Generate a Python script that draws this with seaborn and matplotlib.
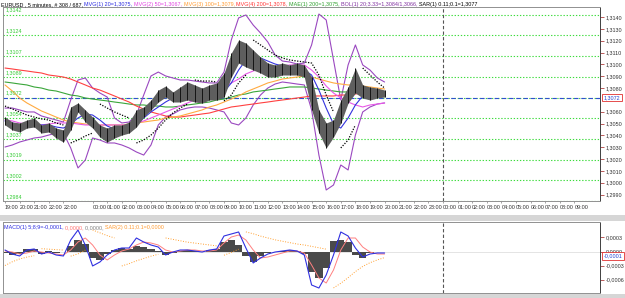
import numpy as np
import pandas as pd
import seaborn as sns
import matplotlib
matplotlib.use("Agg")
import matplotlib.pyplot as plt
from matplotlib.patches import Rectangle

# ---------------- data ----------------
# chart time axis, in hours from the first bar (half-hour samples)
hours = np.arange(0, 26.5, 0.5)

price_high = [1.30555, 1.30513, 1.30505, 1.30530, 1.30547, 1.30488, 1.30505, 1.30462, 1.30446, 1.30640,
              1.30674, 1.30615, 1.30555, 1.30488, 1.30462, 1.30488, 1.30488, 1.30513, 1.30615, 1.30640,
              1.30699, 1.30783, 1.30817, 1.30767, 1.30809, 1.30851, 1.30826, 1.30800, 1.30826, 1.30843,
              1.30927, 1.31096, 1.31206, 1.31180, 1.31121, 1.31062, 1.31011, 1.30995, 1.31011, 1.30995,
              1.31011, 1.30995, 1.30893, 1.30615, 1.30505, 1.30530, 1.30699, 1.30809, 1.30969, 1.30826,
              1.30809, 1.30800, 1.30783]
price_low = [1.30488, 1.30446, 1.30429, 1.30462, 1.30471, 1.30420, 1.30429, 1.30378, 1.30344, 1.30446,
             1.30598, 1.30513, 1.30462, 1.30386, 1.30344, 1.30378, 1.30403, 1.30420, 1.30471, 1.30555,
             1.30615, 1.30682, 1.30724, 1.30682, 1.30682, 1.30699, 1.30682, 1.30674, 1.30699, 1.30699,
             1.30724, 1.30893, 1.31011, 1.30978, 1.30952, 1.30927, 1.30893, 1.30893, 1.30910, 1.30910,
             1.30910, 1.30893, 1.30615, 1.30420, 1.30294, 1.30386, 1.30505, 1.30674, 1.30758, 1.30716,
             1.30699, 1.30716, 1.30724]

ma20 = [1.30522, 1.30505, 1.30488, 1.30488, 1.30488, 1.30488, 1.30488, 1.30471, 1.30462, 1.30496,
        1.30547, 1.30581, 1.30572, 1.30530, 1.30479, 1.30454, 1.30446, 1.30462, 1.30496, 1.30547,
        1.30598, 1.30640, 1.30682, 1.30716, 1.30733, 1.30741, 1.30741, 1.30741, 1.30741, 1.30741,
        1.30767, 1.30843, 1.30952, 1.31037, 1.31062, 1.31054, 1.31028, 1.31003, 1.30986, 1.30969,
        1.30961, 1.30952, 1.30910, 1.30783, 1.30631, 1.30496, 1.30462, 1.30547, 1.30657, 1.30733,
        1.30758, 1.30758, 1.30750]
ma50 = [1.30530, 1.30522, 1.30505, 1.30496, 1.30488, 1.30488, 1.30496, 1.30505, 1.30505, 1.30505,
        1.30496, 1.30488, 1.30488, 1.30488, 1.30488, 1.30488, 1.30488, 1.30488, 1.30505, 1.30522,
        1.30547, 1.30572, 1.30598, 1.30623, 1.30648, 1.30674, 1.30699, 1.30724, 1.30758, 1.30783,
        1.30809, 1.30843, 1.30876, 1.30919, 1.30944, 1.30961, 1.30969, 1.30978, 1.30986, 1.30995,
        1.30995, 1.30995, 1.30952, 1.30893, 1.30817, 1.30758, 1.30716, 1.30682, 1.30657, 1.30640,
        1.30657, 1.30665, 1.30674]
ma100 = [1.30826, 1.30775, 1.30716, 1.30674, 1.30640, 1.30606, 1.30581, 1.30555, 1.30530, 1.30513,
         1.30505, 1.30496, 1.30488, 1.30488, 1.30488, 1.30488, 1.30488, 1.30496, 1.30505, 1.30513,
         1.30522, 1.30530, 1.30547, 1.30555, 1.30564, 1.30581, 1.30598, 1.30615, 1.30640, 1.30657,
         1.30682, 1.30707, 1.30733, 1.30767, 1.30792, 1.30817, 1.30843, 1.30859, 1.30876, 1.30885,
         1.30893, 1.30902, 1.30893, 1.30876, 1.30859, 1.30843, 1.30834, 1.30826, 1.30826, 1.30817,
         1.30809, 1.30800, 1.30792]
ma200 = [1.30969, 1.30961, 1.30952, 1.30944, 1.30935, 1.30927, 1.30910, 1.30902, 1.30893, 1.30876,
         1.30851, 1.30826, 1.30800, 1.30783, 1.30758, 1.30733, 1.30707, 1.30682, 1.30648, 1.30623,
         1.30598, 1.30581, 1.30564, 1.30555, 1.30555, 1.30564, 1.30572, 1.30581, 1.30589, 1.30606,
         1.30623, 1.30640, 1.30648, 1.30657, 1.30665, 1.30674, 1.30682, 1.30691, 1.30699, 1.30707,
         1.30716, 1.30724, 1.30733, 1.30733, 1.30733, 1.30733, 1.30741, 1.30741, 1.30750, 1.30758,
         1.30758, 1.30767, 1.30767]
mae200 = [1.30851, 1.30843, 1.30834, 1.30826, 1.30809, 1.30800, 1.30783, 1.30775, 1.30758, 1.30741,
          1.30733, 1.30716, 1.30707, 1.30699, 1.30691, 1.30682, 1.30674, 1.30665, 1.30657, 1.30657,
          1.30648, 1.30648, 1.30640, 1.30640, 1.30648, 1.30657, 1.30665, 1.30674, 1.30682, 1.30699,
          1.30707, 1.30724, 1.30741, 1.30750, 1.30767, 1.30775, 1.30783, 1.30792, 1.30800, 1.30809,
          1.30809, 1.30809, 1.30800, 1.30792, 1.30783, 1.30775, 1.30767, 1.30767, 1.30767, 1.30767,
          1.30767, 1.30758, 1.30758]
bb_upper = [1.30631, 1.30631, 1.30615, 1.30598, 1.30598, 1.30564, 1.30547, 1.30530, 1.30513, 1.30699,
            1.30868, 1.30885, 1.30800, 1.30758, 1.30724, 1.30547, 1.30505, 1.30513, 1.30572, 1.30741,
            1.30902, 1.30935, 1.30902, 1.30885, 1.30868, 1.30868, 1.30859, 1.30851, 1.30843, 1.30843,
            1.30935, 1.31206, 1.31392, 1.31417, 1.31332, 1.31265, 1.31189, 1.31079, 1.31028, 1.31020,
            1.31003, 1.31011, 1.31164, 1.31425, 1.31375, 1.31037, 1.30699, 1.30995, 1.31164, 1.30995,
            1.30952, 1.30885, 1.30851]
bb_lower = [1.30302, 1.30319, 1.30344, 1.30361, 1.30378, 1.30386, 1.30403, 1.30420, 1.30420, 1.30294,
            1.30125, 1.30192, 1.30378, 1.30361, 1.30336, 1.30336, 1.30319, 1.30294, 1.30260, 1.30234,
            1.30319, 1.30488, 1.30555, 1.30581, 1.30615, 1.30631, 1.30640, 1.30640, 1.30631, 1.30615,
            1.30598, 1.30505, 1.30488, 1.30547, 1.30657, 1.30741, 1.30800, 1.30834, 1.30851, 1.30843,
            1.30834, 1.30826, 1.30615, 1.30234, 1.29939, 1.29981, 1.30150, 1.30108, 1.30403, 1.30598,
            1.30640, 1.30665, 1.30674]
sar = [1.30648, 1.30623, 1.30598, 1.30572, 1.30555, 1.30539, 1.30530, 1.30505, 1.30488,
       1.30336, 1.30361, 1.30395, 1.30420,
       1.30665, 1.30631, 1.30598, 1.30572, 1.30547,
       1.30336, 1.30361, 1.30403, 1.30462, 1.30530, 1.30589, 1.30631, 1.30665,
       1.30868, 1.30859, 1.30859, 1.30851,
       1.30691, 1.30741, 1.30843, 1.30910,
       1.31206, 1.31164, 1.31121, 1.31079, 1.31054, 1.31037, 1.31028, 1.31020, 1.31011, 1.30910, 1.30741, 1.30598,
       1.30294, 1.30361, 1.30488,
       1.30969, 1.30910, 1.30851, 1.30800]
sar_trend = [-1] * 9 + [1] * 4 + [-1] * 5 + [1] * 8 + [-1] * 4 + [1] * 4 + [-1] * 12 + [1] * 3 + [-1] * 4

# MACD panel, values in units of 0.0001
macd_main = [0.32, -0.54, -0.96, 0.32, 0.54, -0.54, -0.11, -0.75, -0.96, 2.46,
             4.60, 1.39, -3.10, -2.25, -0.75, 0.32, 0.75, 0.75, 2.89, 2.03,
             1.39, 0.96, -0.75, -0.11, 0.32, 0.32, 0.11, -0.11, 0.32, 0.54,
             3.32, 3.75, 4.18, 0.75, -2.46, -1.39, -0.54, -0.11, 0.11, 0.32,
             0.11, -0.75, -7.17, -7.82, -5.03, -0.75, 4.18, 3.32, 0.75, -1.18,
             -0.54, -0.32, -0.32]
macd_signal = [0.11, -0.11, -0.54, -0.32, 0.11, -0.11, -0.32, -0.54, -0.75, 0.32,
               2.03, 2.89, 1.39, -0.75, -1.82, -0.75, 0.11, 0.54, 1.39, 2.03,
               1.82, 1.39, 0.32, -0.11, 0.11, 0.32, 0.32, 0.11, 0.11, 0.32,
               1.82, 3.10, 3.53, 2.46, 0.32, -1.39, -1.18, -0.75, -0.32, 0.11,
               0.11, -0.32, -2.89, -5.67, -6.75, -3.96, 0.32, 2.89, 2.89, 0.96,
               -0.11, -0.54, -0.54]
macd_hist = [-0.32, -0.75, -0.54, 0.54, 0.54, -0.54, 0.11, -0.32, -0.11, 1.18,
             2.46, 1.61, -1.39, -1.82, -0.54, 0.32, 0.75, 0.54, 1.18, 0.96,
             0.54, 0.11, -0.75, -0.32, 0.11, 0.32, 0.11, -0.11, 0.32, 0.54,
             2.03, 2.46, 1.39, -0.96, -2.25, -0.96, -0.32, -0.11, 0.11, 0.32,
             0.11, -0.54, -4.39, -5.67, -3.53, 2.25, 2.46, 2.03, -0.75, -1.39,
             -0.32, -0.11, -0.11]
macd_sar = [-3.0, -2.2, -1.6, -1.2, -0.9, 0.6, 0.5, 0.4, 0.3, -1.0,
            -0.5, 0.3, 4.6, 4.0, 3.4, 2.9, -3.1, -2.6, -2.0, -1.5,
            -1.0, -0.6, 2.9, 2.6, 2.3, 2.0, 1.8, 1.6, 1.4, 1.2,
            -0.8, -0.2, 0.5, 4.2, 3.8, 3.3, 2.9, 2.5, 2.2, 1.9,
            1.6, 1.4, 1.1, 0.8, 0.5, -7.8, -6.8, -5.6, -4.3, -3.2,
            -2.4, -1.8, -1.3]
macd_sar_trend = [1] * 5 + [-1] * 4 + [1] * 3 + [-1] * 4 + [1] * 6 + [-1] * 8 + [1] * 3 + [-1] * 12 + [1] * 8

level_values = [1.3142, 1.31245, 1.3107, 1.30895, 1.3072, 1.30545, 1.3037, 1.30195, 1.3002, 1.29845]
level_labels = ["1,3142", "1,3124", "1,3107", "1,3089", "1,3072", "1,3054", "1,3037", "1,3019", "1,3002", "1,2984"]
current_price = 1.3072
price_ticks = [1.3140, 1.3130, 1.3120, 1.3110, 1.3100, 1.3090, 1.3080, 1.3060, 1.3050,
               1.3040, 1.3030, 1.3020, 1.3010, 1.3000, 1.2990]
macd_ticks = [3, 0, -3, -6]
macd_current = -1

time_labels = (["19:00", "20:00", "21:00", "22:00", "22:00"]
               + ["%02d:00" % h for h in range(24)] + ["%02d:00" % h for h in range(10)])
time_pos = [0, 1, 2, 3, 4] + [6 + h for h in range(24)] + [30 + h for h in range(10)]
date_labels = ["09/17/10", "19", "20", "21"]
date_pos = [-0.27, 4.55, 6.0, 30.6]
day_separator = 30.0

title_parts = [("EURUSD , 5 minutes, # 308 / 687, ", "#000000"),
               ("MVG(1) 20=1,3075, ", "#2a2ae0"),
               ("MVG(2) 50=1,3067, ", "#e040e0"),
               ("MVG(3) 100=1,3079, ", "#ff9a30"),
               ("MVG(4) 200=1,3078, ", "#ff3030"),
               ("MAE(1) 200=1,3075, ", "#30a030"),
               ("BOL(1) 20;3.33=1,3084/1,3066, ", "#8030a0"),
               ("SAR(1) 0.11;0.1=1,3077", "#000000")]
macd_title_parts = [("MACD(1) 5;8;9=-0,0001, ", "#2a2ae0"),
                    ("0,0000, ", "#ff7070"),
                    ("0,0000, ", "#808080"),
                    ("SAR(2) 0.11;0.1=0,0000", "#ff9a30")]

# ---------------- figure ----------------
sns.set_theme(style="white")
plt.rcParams['font.family'] = ['Liberation Sans', 'DejaVu Sans']
FS = 3.9

W, H = 625.0, 298.0
fig = plt.figure(figsize=(W / 100, H / 100), dpi=100)
fig.patch.set_facecolor("white")


def fx(px):
    return px / W


def fy(py):
    return 1.0 - py / H


PX_PER_H = 14.6
X0 = 5.0
LEFT, RIGHT = 3, 600
MAIN_TOP, MAIN_BOT = 7, 201
MACD_TOP, MACD_BOT = 222, 293
PX_PER_PRICE = 11840.0
PX_PER_MACD = 4.67

xlim = ((LEFT - X0) / PX_PER_H, (RIGHT - X0) / PX_PER_H)

ax = fig.add_axes([fx(LEFT), fy(MAIN_BOT), (RIGHT - LEFT) / W, (MAIN_BOT - MAIN_TOP) / H])
ax2 = fig.add_axes([fx(LEFT), fy(MACD_BOT), (RIGHT - LEFT) / W, (MACD_BOT - MACD_TOP) / H])

# separator bands
for (y0, y1) in [(215, 221), (294, 298)]:
    fig.patches.append(Rectangle((0, fy(y1)), 1, (y1 - y0) / H, transform=fig.transFigure,
                                 facecolor="#d6d6d6", edgecolor="none", zorder=0))

df = pd.DataFrame({"hours": hours, "high": price_high, "low": price_low,
                   "ma20": ma20, "ma50": ma50, "ma100": ma100, "ma200": ma200,
                   "mae200": mae200, "bbu": bb_upper, "bbl": bb_lower,
                   "sar": sar, "sar_trend": sar_trend,
                   "macd": macd_main, "signal": macd_signal, "hist": macd_hist,
                   "msar": macd_sar, "msar_trend": macd_sar_trend})

# ---- main panel ----
for lv, lb in zip(level_values, level_labels):
    ax.axhline(lv, color="#3ddc3d", lw=0.8, ls=(0, (1.2, 1.6)), zorder=1)
    ax.text(xlim[0] + 0.2, lv + 2.0 / PX_PER_PRICE, lb, color="#33cc33", fontsize=FS,
            va="bottom", ha="left", zorder=6)
ax.axhline(current_price, color="#3050d0", lw=0.8, ls=(0, (4, 2.5)), zorder=2)
ax.axvline(day_separator, color="#555555", lw=0.8, ls=(0, (3, 2)), zorder=2)

line_specs = [("bbu", "#9a48c0"), ("bbl", "#9a48c0"), ("mae200", "#3aa63a"),
              ("ma200", "#ff4040"), ("ma100", "#ffaa40"), ("ma50", "#e858e8"), ("ma20", "#3333dd")]
for col, c in line_specs:
    sns.lineplot(data=df, x="hours", y=col, ax=ax, color=c, lw=0.8, estimator=None,
                 sort=False, legend=False, zorder=3)

# candles: grey high-low band with dark bar strokes
ax.fill_between(df["hours"], df["low"], df["high"], color="#5e5e5e", lw=0, zorder=4)
ax.vlines(df["hours"], df["low"], df["high"], color="#141414", lw=0.7, zorder=4)

grp = np.cumsum(np.r_[0, np.diff(df["sar_trend"].values) != 0])
for g in np.unique(grp):
    sub = df[grp == g]
    sns.lineplot(data=sub, x="hours", y="sar", ax=ax, color="black", lw=0.9,
                 ls=(0, (1, 1.2)), estimator=None, sort=False, legend=False, zorder=5)

ax.set_xlim(*xlim)
ax.set_ylim(1.3140 - (MAIN_BOT - 17) / PX_PER_PRICE, 1.3140 + (17 - MAIN_TOP) / PX_PER_PRICE)
ax.set_xlabel("")
ax.set_ylabel("")
ax.yaxis.tick_right()
ax.set_yticks(price_ticks)
ax.set_yticklabels([("%.4f" % v).replace(".", ",") for v in price_ticks])
ax.tick_params(axis="y", which="both", right=True, left=False, length=3, width=0.6,
               color="#b04040", labelsize=FS, labelcolor="#303030", pad=1)
ax.set_xticks(time_pos)
ax.set_xticklabels(time_labels)
for t in ax.get_xticklabels():
    t.set_ha("left")
ax.tick_params(axis="x", which="both", bottom=True, length=1.5, width=0.5, color="#808080",
               labelsize=FS, labelcolor="#303030", pad=1.2)
trans = ax.get_xaxis_transform()
for lb, p in zip(date_labels, date_pos):
    ax.text(p, -0.085, lb, transform=trans, fontsize=FS, color="#303030", ha="left", va="center",
            clip_on=False)
ytr = ax.get_yaxis_transform()
ax.text(1.006, current_price, ("%.4f" % current_price).replace(".", ","), transform=ytr,
        fontsize=FS, color="#2040d0", ha="left", va="center", zorder=10, clip_on=False,
        bbox=dict(boxstyle="square,pad=0.25", fc="white", ec="#e03030", lw=0.6))
for s in ax.spines.values():
    s.set_color("#909090")
    s.set_linewidth(0.7)
ax.spines["right"].set_color("#404040")
ax.grid(False)

# ---- MACD panel ----
ax2.axhline(0, color="#d0d0d0", lw=0.4, zorder=1)
ax2.bar(df["hours"], df["hist"], width=0.5, color="#4a4a4a", lw=0, zorder=2)
sns.lineplot(data=df, x="hours", y="signal", ax=ax2, color="#ff8080", lw=0.7, estimator=None,
             sort=False, legend=False, zorder=3)
sns.lineplot(data=df, x="hours", y="macd", ax=ax2, color="#3030e0", lw=0.8, estimator=None,
             sort=False, legend=False, zorder=4)
grp2 = np.cumsum(np.r_[0, np.diff(df["msar_trend"].values) != 0])
for g in np.unique(grp2):
    sub = df[grp2 == g]
    sns.lineplot(data=sub, x="hours", y="msar", ax=ax2, color="#ffa030", lw=0.7,
                 ls=(0, (1, 1.6)), estimator=None, sort=False, legend=False, zorder=5)
ax2.axvline(day_separator, color="#555555", lw=0.8, ls=(0, (3, 2)), zorder=2)
ax2.set_xlim(*xlim)
ax2.set_ylim(-(MACD_BOT - 251.5) / PX_PER_MACD, (251.5 - MACD_TOP) / PX_PER_MACD)
ax2.set_xlabel("")
ax2.set_ylabel("")
ax2.set_xticks([])
ax2.yaxis.tick_right()
ax2.set_yticks(macd_ticks)
ax2.set_yticklabels([("%.4f" % (v * 1e-4)).replace(".", ",") for v in macd_ticks])
ax2.tick_params(axis="y", right=True, left=False, length=3, width=0.6, color="#b04040",
                labelsize=FS, labelcolor="#303030", pad=1)
ytr2 = ax2.get_yaxis_transform()
ax2.text(1.006, macd_current, ("%.4f" % (macd_current * 1e-4)).replace(".", ","), transform=ytr2,
         fontsize=FS, color="#2040d0", ha="left", va="center", zorder=10, clip_on=False,
         bbox=dict(boxstyle="square,pad=0.25", fc="white", ec="#e03030", lw=0.6))
for s in ax2.spines.values():
    s.set_color("#909090")
    s.set_linewidth(0.7)
ax2.spines["right"].set_color("#404040")
ax2.grid(False)


# ---- chained coloured titles ----
def chain(axis, x, y, parts, transform):
    t = axis.text(x, y, parts[0][0], color=parts[0][1], fontsize=FS, transform=transform,
                  ha="left", va="baseline", zorder=12, clip_on=False)
    for s, c in parts[1:]:
        t = axis.annotate(s, xy=(1, 0), xycoords=t, xytext=(0, 0), textcoords="offset points",
                          color=c, fontsize=FS, ha="left", va="bottom", zorder=12,
                          annotation_clip=False)
    return t


chain(ax, fx(1), fy(6), title_parts, fig.transFigure)
chain(ax2, fx(4), fy(229), macd_title_parts, fig.transFigure)

fig.savefig("out.png", dpi=100, facecolor="white")
